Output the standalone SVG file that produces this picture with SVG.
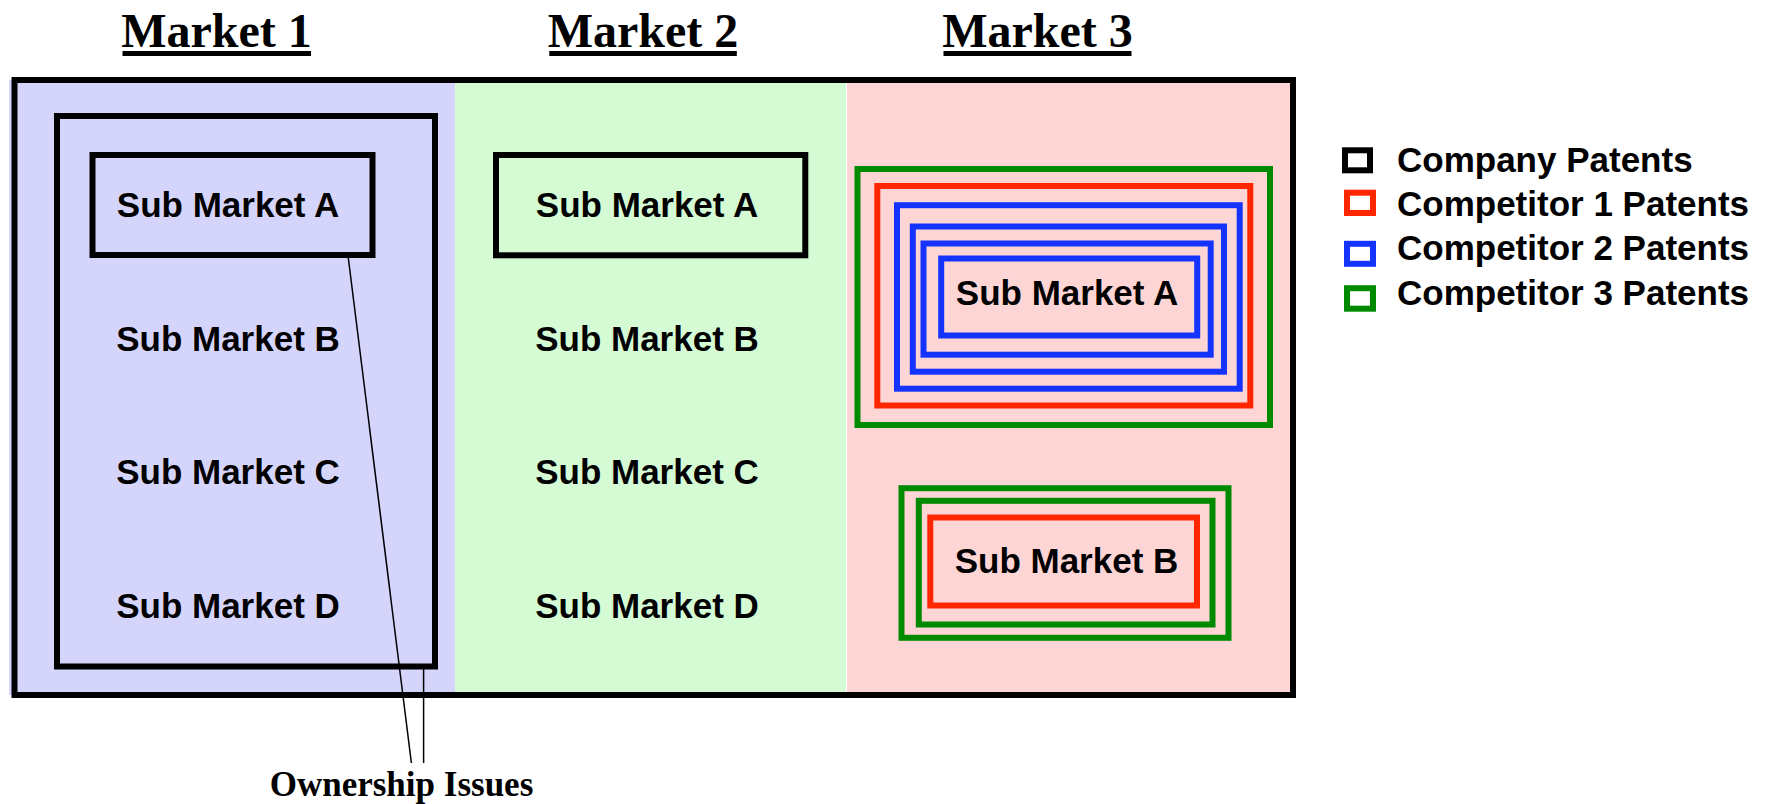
<svg xmlns="http://www.w3.org/2000/svg" width="1773" height="804" viewBox="0 0 1773 804">
<style>
.title{font-family:"Liberation Serif","Times New Roman",serif;font-weight:bold;font-size:48px;fill:#000;text-anchor:middle}
.ul{fill:#000}
.lbl{font-family:"Liberation Sans",Arial,sans-serif;font-weight:bold;font-size:35px;fill:#000;text-anchor:middle}
.leg{font-family:"Liberation Sans",Arial,sans-serif;font-weight:bold;font-size:35px;fill:#000}
.note{font-family:"Liberation Serif","Times New Roman",serif;font-weight:bold;font-size:35px;fill:#000;text-anchor:middle}
.co{fill:none;stroke:#000;stroke-width:6}
.c1{fill:none;stroke:#FF2600;stroke-width:6}
.c2{fill:none;stroke:#1433FF;stroke-width:6}
.c3{fill:none;stroke:#008A00;stroke-width:6}
.conn{stroke:#000;stroke-width:1.5;fill:none}
</style>
<rect width="1773" height="804" fill="#fff"/>
<g id="titles">
<text class="title" x="216.5" y="47">Market 1</text>
<rect class="ul" x="122.5" y="51" width="188.5" height="5"/>
<text class="title" x="643" y="47">Market 2</text>
<rect class="ul" x="549.3" y="51" width="187.5" height="5"/>
<text class="title" x="1037.5" y="47">Market 3</text>
<rect class="ul" x="943.5" y="51" width="188" height="5"/>
</g>
<g id="market1">
<rect x="9" y="80" width="446" height="615" fill="#D5D5FC"/>
</g>
<g id="market2">
<rect x="455" y="80" width="391" height="615" fill="#D5FBD5"/>
</g>
<g id="market3">
<rect x="847" y="80" width="446" height="615" fill="#FED5D5"/>
</g>
<g id="frame">
<rect x="14.5" y="80" width="1278.5" height="615" fill="none" stroke="#000" stroke-width="6"/>
</g>
<g id="m1-company">
<rect class="co" x="57" y="116" width="378" height="550.5"/>
</g>
<g id="m1-subA">
<rect class="co" x="92.5" y="155" width="280" height="100"/>
<text class="lbl" x="228" y="217">Sub Market A</text>
</g>
<g id="m1-subB"><text class="lbl" x="228" y="350.7">Sub Market B</text></g>
<g id="m1-subC"><text class="lbl" x="228" y="484.3">Sub Market C</text></g>
<g id="m1-subD"><text class="lbl" x="228" y="618">Sub Market D</text></g>
<g id="m2-subA">
<rect class="co" x="496" y="155" width="309.3" height="100.3"/>
<text class="lbl" x="647" y="217">Sub Market A</text>
</g>
<g id="m2-subB"><text class="lbl" x="647" y="350.7">Sub Market B</text></g>
<g id="m2-subC"><text class="lbl" x="647" y="484.3">Sub Market C</text></g>
<g id="m2-subD"><text class="lbl" x="647" y="618">Sub Market D</text></g>
<g id="m3-subA">
<rect class="c3" x="857.5" y="169" width="412.5" height="256"/>
<rect class="c1" x="877.3" y="186" width="373" height="219.5"/>
<rect class="c2" x="897" y="205.2" width="342.7" height="183.5"/>
<rect class="c2" x="912.8" y="226.5" width="311.2" height="145.2"/>
<rect class="c2" x="923.5" y="243.5" width="287.2" height="111.2"/>
<rect class="c2" x="941.2" y="258.5" width="256" height="77"/>
<text class="lbl" x="1067" y="305">Sub Market A</text>
</g>
<g id="m3-subB">
<rect class="c3" x="901.5" y="488.2" width="327" height="149.6"/>
<rect class="c3" x="918.8" y="500.8" width="293.7" height="123.7"/>
<rect class="c1" x="930.3" y="517.5" width="266.7" height="88"/>
<text class="lbl" x="1066.5" y="573.3">Sub Market B</text>
</g>
<g id="legend">
<rect class="co" x="1345" y="150.3" width="25" height="20"/>
<text class="leg" x="1397" y="171.7">Company Patents</text>
<rect class="c1" x="1347" y="192.7" width="26" height="20.3" stroke-width="5.5"/>
<text class="leg" x="1397" y="216">Competitor 1 Patents</text>
<rect class="c2" x="1347" y="243.8" width="26" height="20" stroke-width="5.5"/>
<text class="leg" x="1397" y="260.3">Competitor 2 Patents</text>
<rect class="c3" x="1347" y="288.2" width="26" height="20.5" stroke-width="5.5"/>
<text class="leg" x="1397" y="304.7">Competitor 3 Patents</text>
</g>
<g id="ownership">
<text class="note" x="401.5" y="796">Ownership Issues</text>
</g>
<g id="connectors">
<line class="conn" x1="348.3" y1="258" x2="411.4" y2="763"/>
<line class="conn" x1="423.6" y1="669" x2="423.6" y2="763"/>
</g>
</svg>
